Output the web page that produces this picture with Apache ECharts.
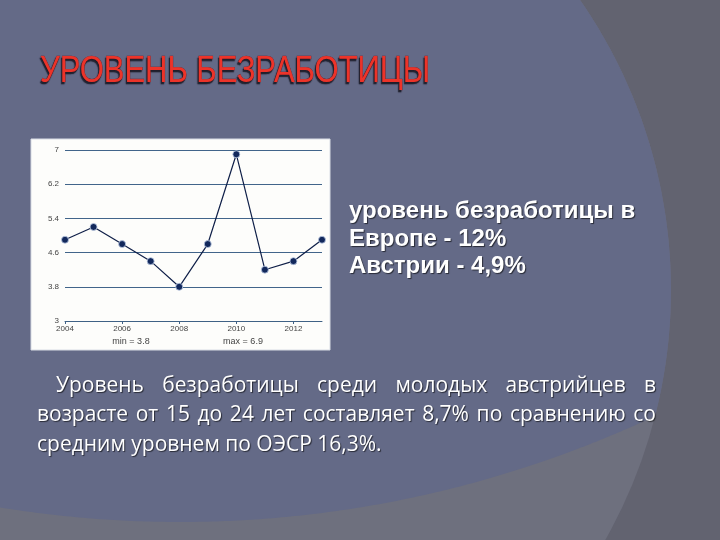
<!DOCTYPE html>
<html>
<head>
<meta charset="utf-8">
<script src="https://cdn.jsdelivr.net/npm/echarts@6/dist/echarts.min.js"></script>
<style>
  html, body { margin: 0; padding: 0; background: #626370; }
  #main { width: 720px; height: 540px; }
</style>
</head>
<body>
<div id="main"></div>
<script>
// данные графика
var years = ['2004', '2005', '2006', '2007', '2008', '2009', '2010', '2011', '2012', '2013'];
var rates = [4.9, 5.2, 4.8, 4.4, 3.8, 4.8, 6.9, 4.2, 4.4, 4.9];
var yTicks = [3, 3.8, 4.6, 5.4, 6.2, 7];

var titleText = 'УРОВЕНЬ БЕЗРАБОТИЦЫ';
var sideLines = ['уровень безработицы в', 'Европе - 12%', 'Австрии - 4,9%'];
var paraLines = [
    'Уровень безработицы среди молодых австрийцев в',
    'возрасте от 15 до 24 лет составляет 8,7% по сравнению со',
    'средним уровнем по ОЭСР 16,3%.'
];

var myChart = echarts.init(document.getElementById('main'));

var minVal = Math.min.apply(null, rates);
var maxVal = Math.max.apply(null, rates);

// фон слайда: синяя область = пересечение двух больших кругов
var cA = { x: 163, y: 290, r: 508 };
var cB = { x: 180, y: -596, r: 1118 };
function blueShape() {
    var pts = [];
    for (var i = 0; i < 720; i++) {
        var a = i / 720 * Math.PI * 2;
        var x = cA.x + cA.r * Math.cos(a);
        var y = cA.y + cA.r * Math.sin(a);
        var dx = x - cB.x;
        if (Math.abs(dx) < cB.r) {
            var yb = cB.y + Math.sqrt(cB.r * cB.r - dx * dx);
            if (y > yb) y = yb;
        }
        pts.push([x, y]);
    }
    return pts;
}

// выравнивание абзаца по ширине
var paraFont = '21px "Open Sans"';
var ctx = document.createElement('canvas').getContext('2d');
ctx.font = paraFont;
function justifyLine(text, x0, x1, y) {
    var words = text.split(' ');
    var total = 0;
    words.forEach(function (w) { total += ctx.measureText(w).width; });
    var gap = (x1 - x0 - total) / (words.length - 1);
    var x = x0;
    var out = [];
    words.forEach(function (w) {
        out.push(paraText(w, x, y));
        x += ctx.measureText(w).width + gap;
    });
    return out;
}
function paraText(t, x, y) {
    return {
        type: 'text', x: x, y: y, z: 10,
        style: {
            text: t, fill: '#ffffff', font: paraFont,
            textShadowColor: 'rgba(0,0,0,0.6)', textShadowOffsetX: 1, textShadowOffsetY: 1, textShadowBlur: 1
        }
    };
}

var graphics = [
    { type: 'circle', shape: { cx: cA.x, cy: cA.y, r: cA.r }, style: { fill: '#6e707e' }, z: -10, silent: true },
    { type: 'polygon', shape: { points: blueShape() }, style: { fill: '#646a87' }, z: -9, silent: true },
    // белая подложка графика
    { type: 'rect', shape: { x: 31, y: 139, width: 299, height: 211 }, style: { fill: '#fdfdfb', stroke: '#d8dce4', lineWidth: 1 }, z: -5, silent: true },
    {
        type: 'text', x: 40, y: 53, scaleX: 0.837, z: 10,
        style: {
            text: titleText, fill: '#ec3329', font: '37px "Liberation Sans", Arial, sans-serif',
            stroke: '#7a1a20', lineWidth: 0.6,
            textShadowColor: 'rgba(20,20,30,0.85)', textShadowOffsetX: -1, textShadowOffsetY: 2, textShadowBlur: 1
        }
    },
    {
        type: 'text', x: 349, y: 198, z: 10,
        style: {
            text: sideLines.join('\n'), fill: '#ffffff', font: 'bold 24px "Liberation Sans", Arial, sans-serif',
            lineHeight: 27.5,
            textShadowColor: 'rgba(0,0,0,0.6)', textShadowOffsetX: 1, textShadowOffsetY: 1, textShadowBlur: 1
        }
    },
    {
        type: 'text', x: 131, y: 337, z: 10,
        style: { text: 'min = ' + minVal.toFixed(1), fill: '#444', font: '9px sans-serif', textAlign: 'center' }
    },
    {
        type: 'text', x: 243, y: 337, z: 10,
        style: { text: 'max = ' + maxVal.toFixed(1), fill: '#444', font: '9px sans-serif', textAlign: 'center' }
    }
];
graphics = graphics.concat(justifyLine(paraLines[0], 56, 656, 376));
graphics = graphics.concat(justifyLine(paraLines[1], 37, 656, 405));
graphics.push(paraText(paraLines[2], 37, 435));

var option = {
    backgroundColor: '#626370',
    animation: false,
    grid: { left: 65, right: 398, top: 150, bottom: 219 },
    xAxis: {
        type: 'category',
        data: years,
        boundaryGap: false,
        axisLine: { lineStyle: { color: '#3f6185', width: 1 } },
        axisTick: { interval: 1, length: 3, lineStyle: { color: '#3f6185' } },
        axisLabel: { interval: 1, color: '#444', fontSize: 8, margin: 4 }
    },
    yAxis: {
        type: 'value',
        min: yTicks[0],
        max: yTicks[yTicks.length - 1],
        interval: 0.8,
        axisLine: { show: false },
        axisTick: { show: false },
        axisLabel: {
            color: '#444', fontSize: 8, margin: 6,
            formatter: function (v) {
                var r = Math.round(v * 10) / 10;
                return Number.isInteger(r) ? String(r) : r.toFixed(1);
            }
        },
        splitLine: { lineStyle: { color: '#41648a', width: 1 } }
    },
    series: [{
        type: 'line',
        data: rates,
        symbol: 'circle',
        symbolSize: 7,
        lineStyle: { color: '#0f1f48', width: 1.2 },
        itemStyle: { color: '#12285c', borderColor: 'rgba(190,205,230,0.8)', borderWidth: 1 }
    }],
    graphic: graphics
};

myChart.setOption(option);
window.addEventListener('resize', function () {
    myChart.resize();
});
</script>
</body>
</html>
